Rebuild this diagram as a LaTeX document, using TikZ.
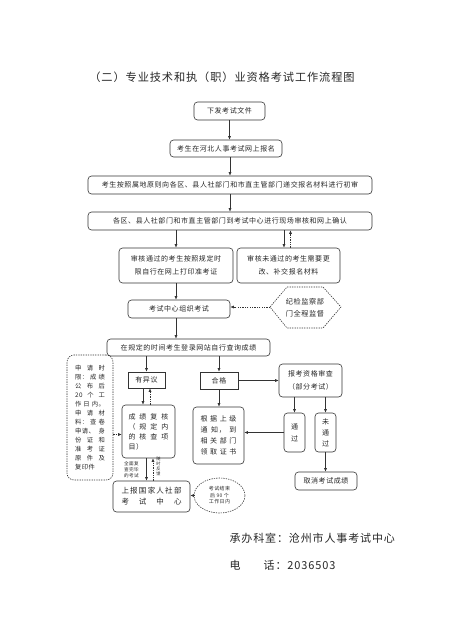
\documentclass[tikz,border=0pt]{standalone}
\usepackage{fontspec}
\setmainfont{Noto Sans CJK SC}[LetterSpace=8]
\usetikzlibrary{arrows.meta,shapes.geometric}
\newcommand\spr[2]{\makebox[#1][s]{#2}}
\tikzset{
  base/.style={draw=black!80, line width=0.6pt, align=center, inner sep=0pt, text=black!85, font=\fontsize{7}{13}\selectfont},
  rbox/.style={base, rounded corners=3.5pt},
  sbox/.style={base},
  arr/.style={-{Latex[length=3.5pt,width=3pt]}, line width=0.6pt, draw=black!80},
  darr/.style={arr, dash pattern=on 1.3pt off 1.1pt},
  dline/.style={draw=black!80, line width=0.6pt, dash pattern=on 1.3pt off 1.1pt},
}
\begin{document}
\begin{tikzpicture}[x=1pt,y=-1pt]
\useasboundingbox (0,0) rectangle (453,640);
\node[font=\fontsize{11.2}{13}\selectfont, text=black!85] (title) at (222,77) {（二）专业技术和执（职）业资格考试工作流程图};

\node[rbox, minimum width=71, minimum height=18] (b1) at (229.5,111) {下发考试文件};
\node[rbox, minimum width=112, minimum height=17] (b2) at (226,148.5) {考生在河北人事考试网上报名};
\node[rbox, minimum width=284, minimum height=18] (b3) at (230,185) {考生按照属地原则向各区、县人社部门和市直主管部门递交报名材料进行初审};
\node[rbox, minimum width=284, minimum height=18] (b4) at (230,221) {各区、县人社部门和市直主管部门到考试中心进行现场审核和网上确认};
\node[rbox, minimum width=114, minimum height=35] (b5) at (176,265.5) {审核通过的考生按照规定时\\限自行在网上打印准考证};
\node[rbox, minimum width=103, minimum height=35] (b6) at (288.5,265.5) {审核未通过的考生需要更\\改、补交报名材料};
\node[rbox, minimum width=102, minimum height=18] (b7) at (179,309) {考试中心组织考试};

\draw[dline] (270,307) -- (287,287) -- (323,287) -- (341,307) -- (323,328) -- (287,328) -- cycle;
\node[font=\fontsize{7.2}{12}\selectfont, text=black!85, align=center] (hex) at (305,307.5) {纪检监察部\\门全程监督};
\coordinate (hexL) at (270,307);

\node[rbox, minimum width=163, minimum height=17] (b8) at (188.5,347.5) {在规定的时间考生登录网站自行查询成绩};
\node[sbox, minimum width=37, minimum height=16] (b9) at (146.5,380) {有异议};
\node[sbox, minimum width=38, minimum height=17] (b10) at (219,380.5) {合格};
\node[rbox, minimum width=63, minimum height=33] (b11) at (310.5,380.5) {报考资格审查\\（部分考试）};
\node[rbox, minimum width=53, minimum height=53, font=\fontsize{7}{10}\selectfont] (b12) at (148.5,431.5)
  {\spr{40pt}{成\hfill 绩\hfill 复\hfill 核}\\\spr{40pt}{（\hfill 规\hfill 定\hfill 内}\\\spr{40pt}{的\hfill 核\hfill 查\hfill 项}\\\spr{40pt}{目）\hfill}};
\node[rbox, minimum width=51, minimum height=57, font=\fontsize{7}{11}\selectfont] (b13) at (218.5,435.5)
  {\spr{36pt}{根\hfill 据\hfill 上\hfill 级}\\\spr{36pt}{通\hfill 知，\hfill 到}\\\spr{36pt}{相\hfill 关\hfill 部\hfill 门}\\\spr{36pt}{领\hfill 取\hfill 证\hfill 书}};
\node[rbox, minimum width=21, minimum height=39, font=\fontsize{7}{12}\selectfont] (b14) at (294.5,432.5) {通\\过};
\node[rbox, minimum width=21, minimum height=39, font=\fontsize{7}{11}\selectfont] (b15) at (325.5,432.5) {未\\通\\过};
\node[rbox, minimum width=62, minimum height=18] (b16) at (326,481) {取消考试成绩};

\node[rbox, dash pattern=on 1.3pt off 1.1pt, rounded corners=7pt, minimum width=46, minimum height=125, font=\fontsize{6.3}{9}\selectfont] (lbox) at (90,417.5)
  {\spr{30pt}{申\hfill 请\hfill 时}\\\spr{30pt}{限：\hfill 成\hfill 绩}\\\spr{30pt}{公\hfill 布\hfill 后}\\\spr{30pt}{20\hfill 个\hfill 工}\\\spr{30pt}{作\hfill 日\hfill 内。}\\\spr{30pt}{申\hfill 请\hfill 材}\\\spr{30pt}{料：\hfill 查\hfill 卷}\\\spr{30pt}{申请、\hfill 身}\\\spr{30pt}{份\hfill 证\hfill 和}\\\spr{30pt}{准\hfill 考\hfill 证}\\\spr{30pt}{原\hfill 件\hfill 及}\\\spr{30pt}{复印件\hfill}};

\node[rbox, minimum width=77, minimum height=31, font=\fontsize{7.5}{11}\selectfont] (b17) at (151.5,496.5)
  {\spr{60pt}{上\hfill 报\hfill 国\hfill 家\hfill 人\hfill 社\hfill 部}\\\spr{60pt}{考\hfill 试\hfill 中\hfill 心}};
\node[base, ellipse, dash pattern=on 1.3pt off 1.1pt, minimum width=51, minimum height=35, font=\fontsize{5}{6.5}\selectfont] (ell) at (219.5,495.5) {考试结束\\后 90 个\\工作日内};

\node[font=\fontsize{4.6}{5.8}\selectfont, text=black!85, align=center] (lab1) at (131.5,469.5) {全面复\\查完毕\\的考试};
\node[font=\fontsize{4.2}{4.8}\selectfont, text=black!85, align=center] (lab2) at (158.5,466.5) {随\\时\\反\\馈};

% connectors
\draw[arr] (b1.south) -- (b1.south |- b2.north);
\draw[arr] ([xshift=4pt]b2.south) -- ([xshift=4pt]b2.south |- b3.north);
\draw[arr] (b3.south) -- (b4.north);
\draw[arr] (b5.north |- b4.south) -- (b5.north);
\draw[arr] ([xshift=-4.5pt]b6.north |- b4.south) -- ([xshift=-4.5pt]b6.north);
\draw[darr] ([xshift=2pt]b6.north) -- ([xshift=2pt]b6.north |- b4.south);
\draw[arr] (b5.south) -- (b5.south |- b7.north);
\draw[darr] (hexL) -- (hexL -| b7.east);
\draw[arr] (b5.south |- b7.south) -- (b5.south |- b8.north);
\draw[arr] (b9.north |- b8.south) -- (b9.north);
\draw[arr] (b10.north |- b8.south) -- (b10.north);
\draw[arr] (b10.east) -- (b10.east -| b11.west);
\draw[arr] ([xshift=-3.5pt]b9.south) -- ([xshift=-3.5pt]b9.south |- b12.north);
\draw[darr] ([xshift=3.5pt]b9.south |- b12.north) -- ([xshift=3.5pt]b9.south);
\draw[arr] (b10.south) -- (b10.south |- b13.north);
\draw[arr] (b14.north |- b11.south) -- (b14.north);
\draw[arr] (b15.north |- b11.south) -- (b15.north);
\draw[arr] (b14.west) -- (b14.west -| b13.east);
\draw[arr] (b15.south) -- (b15.south |- b16.north);
\draw[darr] ([yshift=-3pt]b12.west -| lbox.east) -- ([yshift=-3pt]b12.west);
\draw[arr] ([xshift=-2pt]b12.south) -- ([xshift=-2pt]b12.south |- b17.north);
\draw[darr] ([xshift=4.5pt]b12.south |- b17.north) -- ([xshift=4.5pt]b12.south);
\draw[darr] (ell.west) -- (ell.west -| b17.east);

\node[anchor=west, font=\fontsize{11}{13}\selectfont, text=black!85] (f1) at (226,538) {承办科室：沧州市人事考试中心};
\node[anchor=west, font=\fontsize{11}{13}\selectfont, text=black!85] (f2) at (226,565) {电\hspace{2.1em}话：2036503};
\end{tikzpicture}
\end{document}
